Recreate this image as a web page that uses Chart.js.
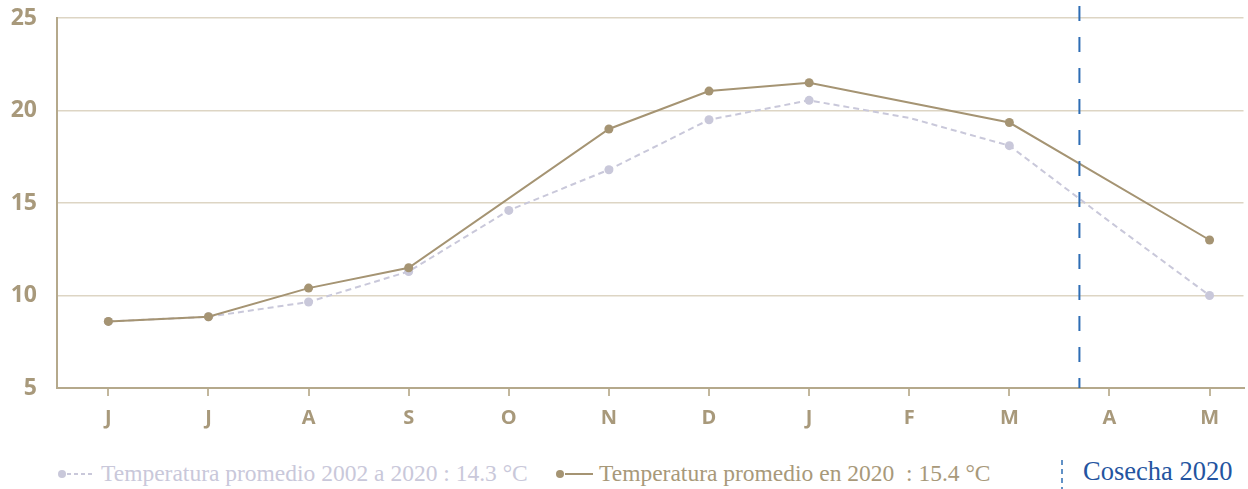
<!DOCTYPE html>
<html>
<head>
<meta charset="utf-8">
<script src="https://cdn.jsdelivr.net/npm/chart.js@4"></script>
<style>
  html, body { margin: 0; padding: 0; background: #fff; }
  #wrap { position: relative; width: 1248px; height: 489px; overflow: hidden; }
  #graph { position: absolute; left: 0; top: 0; }
  .leg { position: absolute; top: 457px; font-family: "Liberation Serif", "DejaVu Serif", serif; font-size: 23.5px; white-space: nowrap; line-height: 32px; }
  .leg svg { vertical-align: middle; margin-right: 4px; position: relative; top: -2px; }
</style>
</head>
<body>
<div id="wrap">
  <canvas id="graph" width="1248" height="440"></canvas>
  <div class="leg" style="left:57px;color:#c9c8da">
    <svg width="40" height="12"><circle cx="5" cy="6" r="4" fill="#c9c8da"/><line x1="10" y1="6" x2="38" y2="6" stroke="#c9c8da" stroke-width="2" stroke-dasharray="4,3"/></svg>Temperatura promedio 2002 a 2020 : 14.3 °C
  </div>
  <div class="leg" style="left:555px;color:#a8997a">
    <svg width="40" height="12"><circle cx="5" cy="6" r="4" fill="#a59473"/><line x1="10" y1="6" x2="38" y2="6" stroke="#a59473" stroke-width="2"/></svg>Temperatura promedio en 2020&nbsp; : 15.4 °C
  </div>
  <svg style="position:absolute;left:1060px;top:460px" width="4" height="29"><line x1="2" y1="0" x2="2" y2="29" stroke="#2e6db4" stroke-width="1.5" stroke-dasharray="5,4"/></svg>
  <div class="leg" style="left:1083px;top:455px;font-size:26.5px;color:#2454a0">Cosecha 2020</div>
</div>
<script>
const months = ['J', 'J', 'A', 'S', 'O', 'N', 'D', 'J', 'F', 'M', 'A', 'M'];
const temp2020 = [8.6, 8.85, 10.4, 11.5, null, 19.0, 21.05, 21.5, null, 19.35, null, 13.0];
const tempAvg = [8.6, 8.85, 9.65, 11.3, 14.6, 16.8, 19.5, 20.55, 19.6, 18.1, 14.0, 10.0];
const avgMarkers = [1, 1, 1, 1, 1, 1, 1, 1, 0, 1, 0, 1];
const yTicks = [5, 10, 15, 20, 25];
const cosechaStart = 9.7;

const toPoints = arr => arr.map((v, i) => ({ x: i, y: v }));

const cosechaLine = {
    id: 'cosechaLine',
    afterDatasetsDraw(chart) {
        const ctx = chart.ctx;
        const x = chart.scales.x.getPixelForValue(cosechaStart);
        ctx.save();
        ctx.strokeStyle = '#2e6db4';
        ctx.lineWidth = 2;
        ctx.setLineDash([15, 16]);
        ctx.beginPath();
        ctx.moveTo(x, chart.chartArea.top - 12);
        ctx.lineTo(x, chart.chartArea.bottom);
        ctx.stroke();
        ctx.restore();
    }
};

let tempChart = new Chart(document.getElementById('graph').getContext('2d'), {
    type: 'line',
    data: {
        datasets: [{
            label: 'Temperatura promedio en 2020 : 15.4 °C',
            data: toPoints(temp2020),
            borderColor: '#a59473',
            backgroundColor: '#a59473',
            borderWidth: 2,
            pointRadius: 4.5,
            pointBorderWidth: 0,
            spanGaps: true,
            tension: 0
        }, {
            label: 'Temperatura promedio 2002 a 2020 : 14.3 °C',
            data: toPoints(tempAvg),
            borderColor: '#c9c8da',
            backgroundColor: '#c9c8da',
            borderWidth: 2,
            borderDash: [6, 4],
            pointRadius: avgMarkers.map(m => m * 4.5),
            pointBorderWidth: 0,
            tension: 0
        }]
    },
    options: {
        responsive: false,
        animation: false,
        layout: { padding: { top: 18, right: 2, left: 0, bottom: 0 } },
        plugins: { legend: { display: false }, tooltip: { enabled: false } },
        scales: {
            x: {
                type: 'linear',
                min: -0.513,
                max: 11.339,
                afterBuildTicks: s => { s.ticks = months.map((m, i) => ({ value: i })); },
                afterFit: s => { s.height = 52; s.paddingLeft = 0; s.paddingRight = 0; },
                grid: { drawOnChartArea: false, drawTicks: true, tickLength: 8, color: '#c2b79d', lineWidth: 2 },
                border: { display: true, color: '#b5a98c', width: 2 },
                ticks: {
                    padding: 10,
                    autoSkip: false,
                    maxRotation: 0,
                    color: '#a8997b',
                    font: { family: 'Open Sans', size: 20, weight: 'bold' },
                    callback: v => months[v]
                }
            },
            y: {
                min: 5,
                max: 25,
                afterBuildTicks: s => { s.ticks = yTicks.map(v => ({ value: v })); },
                afterFit: s => { s.width = 57; s.paddingTop = 0; s.paddingBottom = 0; },
                grid: { color: '#ddd5c4', lineWidth: 1.5, drawTicks: false },
                border: { display: true, color: '#b5a98c', width: 2 },
                ticks: {
                    padding: 20,
                    color: '#a8997b',
                    font: { family: 'Open Sans', size: 23, weight: 'bold' }
                }
            }
        }
    },
    plugins: [cosechaLine]
});
</script>
</body>
</html>
